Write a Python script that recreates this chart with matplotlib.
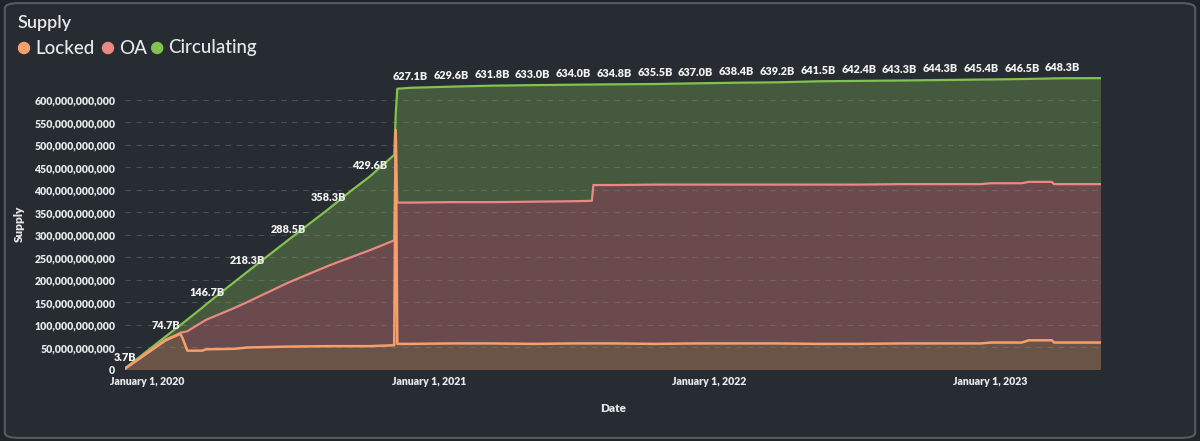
import matplotlib
matplotlib.use("Agg")
import matplotlib.pyplot as plt
from matplotlib.patches import FancyBboxPatch
from matplotlib.ticker import FuncFormatter
import numpy as np
import pandas as pd

plt.rcParams["font.family"] = ["Lato", "DejaVu Sans"]

# supply in billions, stacked: locked at the bottom, then OA, then circulating
dates = pd.to_datetime([
    "2019-12-03", "2020-01-25", "2020-02-10", "2020-02-13", "2020-02-16", "2020-02-22",
    "2020-03-12", "2020-03-18", "2020-04-22", "2020-05-10", "2020-07-02", "2020-08-24",
    "2020-09-24", "2020-10-16", "2020-11-17", "2020-11-19", "2020-11-21", "2020-12-08",
    "2021-01-30", "2021-03-24", "2021-05-16", "2021-07-08", "2021-08-01", "2021-08-03",
    "2021-08-30", "2021-10-22", "2021-12-14", "2022-02-05", "2022-03-30", "2022-05-22",
    "2022-07-14", "2022-09-05", "2022-10-28", "2022-12-20", "2023-01-02", "2023-02-11",
    "2023-02-20", "2023-03-22", "2023-03-25", "2023-04-05", "2023-05-25",
])
locked = [3.0, 66, 78, 80, 70, 43, 43, 46, 47, 50, 52, 53, 53, 53, 55, 533, 58, 58,
          59, 59, 58, 59, 59, 59, 59, 58, 59, 59, 59, 58, 58, 59, 59, 59, 61, 61,
          66, 66, 61, 61, 61]
oa = [0.3, 2, 2, 3, 14, 43, 63, 66, 90, 101, 142, 179, 199, 213, 233, 0, 314, 314,
      314, 314, 316, 316, 317, 352, 352, 354, 353, 353, 353, 354, 354, 354, 354, 354, 354, 354,
      352, 352, 352, 352, 352]
circulating = [0.4, 6.7, 16, 17, 20, 26, 32, 34.7, 57, 67.3, 94.5, 126.3, 149, 163.6, 190, 37, 253, 255.1,
               256.6, 258.8, 259.0, 259.0, 258.3, 223.4, 223.8, 223.5, 225.0, 226.4, 227.2, 229.5, 230.4,
               230.3, 231.3, 232.4, 230.6, 231.5, 228.8, 229.8, 235.0, 235.3, 235.5]

label_dates = pd.to_datetime([
    "2019-12-03", "2020-01-25", "2020-03-18", "2020-05-10", "2020-07-02", "2020-08-24",
    "2020-10-16", "2020-12-08", "2021-01-30", "2021-03-24", "2021-05-16", "2021-07-08",
    "2021-08-30", "2021-10-22", "2021-12-14", "2022-02-05", "2022-03-30", "2022-05-22",
    "2022-07-14", "2022-09-05", "2022-10-28", "2022-12-20", "2023-02-11", "2023-04-05",
])
label_values = [3.7, 74.7, 146.7, 218.3, 288.5, 358.3, 429.6, 627.1, 629.6, 631.8, 633.0, 634.0,
                634.8, 635.5, 637.0, 638.4, 639.2, 641.5, 642.4, 643.3, 644.3, 645.4, 646.5, 648.3]

xtick_dates = pd.to_datetime(["2020-01-01", "2021-01-01", "2022-01-01", "2023-01-01"])
xtick_labels = ["January 1, 2020", "January 1, 2021", "January 1, 2022", "January 1, 2023"]

series_names = ["Locked", "OA", "Circulating"]
line_colors = ["#F5A06C", "#EC8884", "#82C24E"]
fill_colors = ["#6A5347", "#6A4A4D", "#45593F"]

bg = "#262C31"
txt = "#E6E8EA"

B = 1e9
l1 = np.array(locked) * B
l2 = l1 + np.array(oa) * B
l3 = l2 + np.array(circulating) * B

fig = plt.figure(figsize=(12, 4.41), dpi=100, facecolor="#1F2428")
card = FancyBboxPatch((0.004, 0.007), 0.992, 0.986, boxstyle="round,pad=0,rounding_size=0.012",
                      transform=fig.transFigure, facecolor=bg, edgecolor="#555B61", linewidth=1.5,
                      zorder=-10)
fig.patches.append(card)

ax = fig.add_axes([0.1042, 0.161, 0.8133, 0.6633])
ax.set_facecolor("none")

ax.stackplot(dates, l1, l2 - l1, l3 - l2, colors=fill_colors, linewidth=0, zorder=1)
ax.plot(dates, l3, color=line_colors[2], lw=1.6, zorder=3)
ax.plot(dates, l2, color=line_colors[1], lw=1.6, zorder=3)
ax.plot(dates, l1, color=line_colors[0], lw=1.8, zorder=4)

for d, v in zip(label_dates, label_values):
    ax.annotate(f"{v:.1f}B", (d, v * B), xytext=(0, 4), textcoords="offset points",
                ha="center", va="bottom", fontsize=7.8, fontweight=800, color="#F2F2F2",
                annotation_clip=False, zorder=5)

ax.set_xlim(dates[0], dates[-1])
ax.set_ylim(0, 650 * B)
ax.set_yticks(np.arange(0, 601, 50) * B)
ax.yaxis.set_major_formatter(FuncFormatter(lambda v, p: f"{v:,.0f}"))
ax.set_xticks(xtick_dates)
ax.set_xticklabels(xtick_labels)

ax.grid(axis="y", color="#8A9096", alpha=0.35, linestyle=(0, (5, 5)), linewidth=0.8)
ax.grid(axis="x", visible=False)
ax.set_axisbelow(False)
for s in ax.spines.values():
    s.set_visible(False)
ax.tick_params(length=0, colors=txt, labelsize=7.6)
ax.tick_params(axis="y", pad=7)
ax.tick_params(axis="x", pad=4)
for lab in ax.get_xticklabels() + ax.get_yticklabels():
    lab.set_fontweight(800)

ax.set_ylabel("Supply", color=txt, fontsize=8.5, fontweight=800)
ax.yaxis.set_label_coords(-0.1025, 0.5)
ax.set_xlabel("Date", color=txt, fontsize=8.5, fontweight=800)
ax.xaxis.set_label_coords(0.5, -0.113)

fig.text(0.015, 0.948, "Supply", color=txt, fontsize=13, va="center", ha="left", fontweight="semibold")

# legend row
lx = [0.020, 0.090, 0.131]
for x, name, c in zip(lx, series_names, line_colors):
    fig.patches.append(plt.Circle((x * 1200, 441 - 48), 5.5, transform=None, color=c, zorder=5))
    fig.text(x + 0.0092, 1 - 48 / 441, name, color=txt, fontsize=13.5, va="center", ha="left",
             fontweight="medium")

fig.savefig("out.png", dpi=100, facecolor=fig.get_facecolor())
